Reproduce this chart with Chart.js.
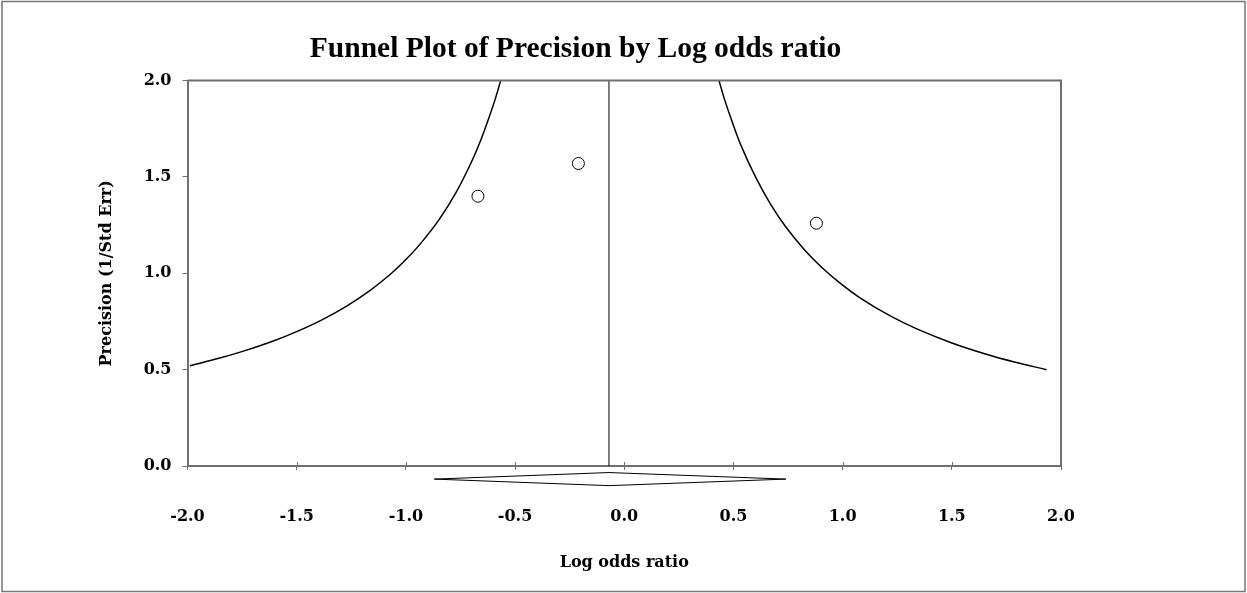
<!DOCTYPE html>
<html>
<head>
<meta charset="utf-8">
<script src="https://cdn.jsdelivr.net/npm/chart.js@4.4.1/dist/chart.umd.min.js"></script>
<style>
  html, body { margin: 0; padding: 0; background: #fff; }
  #wrap { width: 1247px; height: 593px; position: relative; }
</style>
</head>
<body>
<div id="wrap"><canvas id="mycanvas"></canvas></div>
<script>
var titleText = "Funnel Plot of Precision by Log odds ratio";
var xTitle = "Log odds ratio";
var yTitle = "Precision (1/Std Err)";

// studies
var studyLogOR = [-0.67, -0.21, 0.88];
var studyPrecision = [1.40, 1.57, 1.26];

// funnel limits
var leftFunnelX = [-1.989, -1.852, -1.733, -1.604, -1.495, -1.382, -1.271, -1.165, -1.066, -1.001, -0.936, -0.847, -0.770, -0.703, -0.654, -0.622, -0.592, -0.566];
var leftFunnelY = [0.52, 0.56, 0.60, 0.65, 0.70, 0.76, 0.83, 0.91, 1.00, 1.07, 1.15, 1.28, 1.42, 1.57, 1.70, 1.80, 1.90, 2.00];
var rightFunnelX = [0.434, 0.460, 0.490, 0.536, 0.601, 0.669, 0.740, 0.827, 0.905, 0.987, 1.083, 1.216, 1.342, 1.497, 1.658, 1.786, 1.934];
var rightFunnelY = [2.00, 1.90, 1.80, 1.66, 1.50, 1.36, 1.24, 1.12, 1.03, 0.95, 0.87, 0.78, 0.71, 0.64, 0.58, 0.54, 0.50];

// combined estimate
var summaryLogOR = -0.07;
var summaryLower = -0.87;
var summaryUpper = 0.74;

var xTicks = [-2.0, -1.5, -1.0, -0.5, 0.0, 0.5, 1.0, 1.5, 2.0];
var yTicks = [0.0, 0.5, 1.0, 1.5, 2.0];

function pairs(xs, ys) {
  var out = [];
  for (var i in xs) out.push({ x: xs[i], y: ys[i] });
  return out;
}

var axisGray = "#707070";
var labelFont = { family: "DejaVu Serif", weight: "bold", size: 16 };

// diamond sits just under the x axis
var dMid = -0.068, dHalf = 0.034;
var diamond = [
  { x: summaryLower, y: dMid },
  { x: summaryLogOR, y: dMid + dHalf },
  { x: summaryUpper, y: dMid },
  { x: summaryLogOR, y: dMid - dHalf },
  { x: summaryLower, y: dMid }
];

var framePlugin = {
  id: "frame",
  afterDraw: function(chart) {
    var ctx = chart.ctx, a = chart.chartArea;
    ctx.save();
    // outer frame
    ctx.strokeStyle = "#777";
    ctx.lineWidth = 1.5;
    ctx.strokeRect(2, 1.5, 1243, 590);
    // top and right of plot box
    ctx.strokeStyle = axisGray;
    ctx.lineWidth = 2;
    ctx.beginPath();
    ctx.moveTo(a.left, a.top);
    ctx.lineTo(a.right, a.top);
    ctx.lineTo(a.right, a.bottom);
    ctx.stroke();
    // inner half of x tick marks
    var xs = chart.scales.x;
    ctx.lineWidth = 1;
    ctx.beginPath();
    xs.ticks.forEach(function(t) {
      if (t.value > xs.min && t.value < xs.max) {
        var px = Math.round(xs.getPixelForValue(t.value)) + 0.5;
        ctx.moveTo(px, a.bottom);
        ctx.lineTo(px, a.bottom - 4);
      }
    });
    ctx.stroke();
    // title
    ctx.fillStyle = "#000";
    ctx.font = "bold 29.5px 'Liberation Serif'";
    ctx.textAlign = "center";
    ctx.textBaseline = "alphabetic";
    ctx.fillText(titleText, 575.5, 57);
    ctx.restore();
  }
};

var chartdata = {
  datasets: [
    {
      label: "studies",
      data: pairs(studyLogOR, studyPrecision),
      pointRadius: 6,
      pointBackgroundColor: "#fff",
      pointBorderColor: "#000",
      pointBorderWidth: 1,
      showLine: false
    },
    {
      label: "left limit",
      data: pairs(leftFunnelX, leftFunnelY),
      showLine: true,
      borderColor: "#000",
      borderWidth: 1.5,
      pointRadius: 0,
      tension: 0.4,
      fill: false
    },
    {
      label: "right limit",
      data: pairs(rightFunnelX, rightFunnelY),
      showLine: true,
      borderColor: "#000",
      borderWidth: 1.5,
      pointRadius: 0,
      tension: 0.4,
      fill: false
    },
    {
      label: "mean",
      data: [{ x: summaryLogOR, y: yTicks[0] }, { x: summaryLogOR, y: yTicks[yTicks.length - 1] }],
      showLine: true,
      borderColor: "#000",
      borderWidth: 1,
      pointRadius: 0
    },
    {
      label: "summary",
      data: diamond,
      showLine: true,
      borderColor: "#000",
      borderWidth: 1,
      pointRadius: 0,
      tension: 0,
      clip: false
    }
  ]
};

var ctx = document.getElementById("mycanvas");

var funnel = new Chart(ctx, {
  type: "scatter",
  data: chartdata,
  plugins: [framePlugin],
  options: {
    responsive: true,
    maintainAspectRatio: false,
    animation: false,
    layout: { padding: { top: 80.6, right: 186, bottom: 0, left: 0 } },
    plugins: {
      legend: { display: false },
      tooltip: { enabled: false },
      title: { display: false }
    },
    scales: {
      x: {
        type: "linear",
        min: xTicks[0],
        max: xTicks[xTicks.length - 1],
        afterBuildTicks: function(s) { s.ticks = xTicks.map(function(v) { return { value: v }; }); },
        afterFit: function(s) { s.height = 127; },
        grid: { drawOnChartArea: false, drawTicks: true, tickLength: 4, color: axisGray, lineWidth: 1 },
        border: { color: axisGray, width: 2 },
        ticks: {
          padding: 37,
          color: "#000",
          font: labelFont,
          maxRotation: 0,
          autoSkip: false,
          callback: function(v) { return Number(v).toFixed(1); }
        },
        title: { display: true, text: xTitle, color: "#000", font: labelFont, padding: { top: 0, bottom: 21 } }
      },
      y: {
        type: "linear",
        min: yTicks[0],
        max: yTicks[yTicks.length - 1],
        afterBuildTicks: function(s) { s.ticks = yTicks.map(function(v) { return { value: v }; }); },
        afterFit: function(s) { s.width = 187.5; },
        grid: { drawOnChartArea: false, drawTicks: true, tickLength: 5, color: axisGray, lineWidth: 1 },
        border: { color: axisGray, width: 2 },
        ticks: {
          padding: 11,
          color: "#000",
          font: labelFont,
          autoSkip: false,
          callback: function(v) { return Number(v).toFixed(1); }
        },
        title: { display: true, text: yTitle, color: "#000", font: labelFont, padding: { top: 97, bottom: 0 } }
      }
    }
  }
});
</script>
</body>
</html>
